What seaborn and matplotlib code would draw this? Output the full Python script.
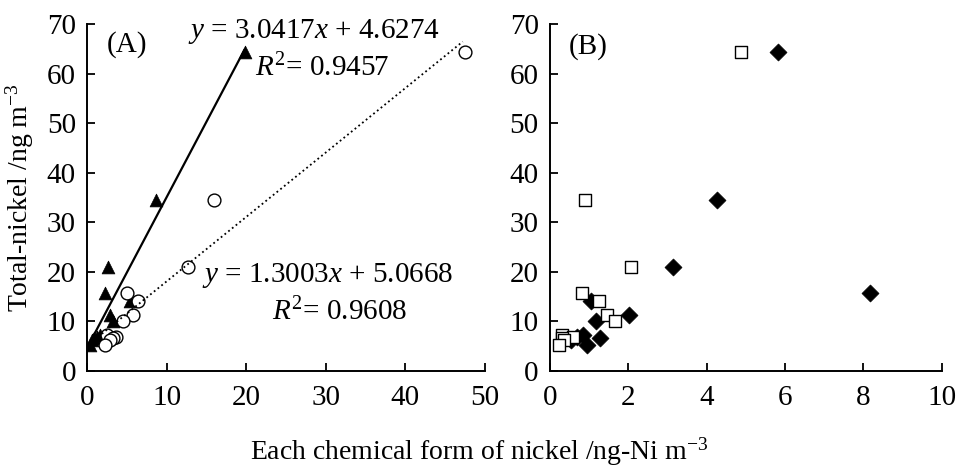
import numpy as np
import pandas as pd
import matplotlib
matplotlib.use('Agg')
import matplotlib.pyplot as plt
import seaborn as sns

# total nickel (y) shared by every chemical form
total_ni = [64.3, 34.4, 20.9, 15.7, 14.2, 11.3, 10.0, 7.3, 6.9, 6.6, 6.2, 5.3]

# panel A
form_tri = [19.8, 8.7, 2.6, 2.3, 5.4, 2.9, 3.3, 1.6, 1.2, 0.9, 0.6, 0.4]
form_circ = [47.5, 15.9, 12.7, 5.0, 6.4, 5.8, 4.5, 2.5, 3.6, 3.3, 2.9, 2.3]
# panel B
form_sq = [4.87, 0.89, 2.06, 0.81, 1.26, 1.47, 1.66, 0.30, 0.60, 0.30, 0.35, 0.24]
form_dia = [5.81, 4.27, 3.15, 8.16, 1.06, 2.02, 1.17, 0.85, 0.70, 1.28, 0.55, 0.94]

# fitted lines printed on panel A: (slope, intercept, x end)
fit_tri = (3.0417, 4.6274, 19.8)
fit_circ = (1.3003, 5.0668, 47.2)

sns.set_style('ticks')
plt.rcParams['font.family'] = ['Liberation Serif', 'DejaVu Serif']
plt.rcParams['mathtext.fontset'] = 'custom'
plt.rcParams['mathtext.rm'] = 'Liberation Serif'
plt.rcParams['mathtext.it'] = 'Liberation Serif:italic'
plt.rcParams['axes.linewidth'] = 1.4
plt.rcParams['axes.edgecolor'] = 'black'
plt.rcParams['text.color'] = 'black'

fs = 21

df = pd.DataFrame({'total': total_ni, 'tri': form_tri, 'circ': form_circ,
                   'sq': form_sq, 'dia': form_dia})

fig = plt.figure(figsize=(9.58, 4.68), dpi=100)
axA = fig.add_axes([0.0908, 0.2073, 0.4155, 0.7415])
axB = fig.add_axes([0.574, 0.2073, 0.409, 0.7415])

# ---- panel A
sns.scatterplot(data=df, x='tri', y='total', ax=axA, marker='^', s=85,
                color='black', edgecolor='black', linewidth=0.5, zorder=3)
sns.scatterplot(data=df, x='circ', y='total', ax=axA, marker='o', s=85,
                facecolor='white', edgecolor='black', linewidth=1.0, zorder=4)

for (m, b, xend), ls in [(fit_tri, '-'), (fit_circ, ':')]:
    xs = np.array([0, xend])
    sns.lineplot(x=xs, y=m * xs + b, ax=axA, color='black', linestyle=ls,
                 linewidth=1.6 if ls == '-' else 1.3, zorder=5)

axA.text(0.05, 0.94, '(A)', transform=axA.transAxes, fontsize=fs, va='center')
# equation labels, placed in figure pixels (from bottom-left)
eq_kw = dict(xycoords='figure pixels', fontsize=fs, ha='center', va='center')
axA.annotate(r'$\mathit{y}$ = 3.0417$\mathit{x}$ + 4.6274', (314, 437), **eq_kw)
axA.annotate(r'$\mathit{R}^{2}$= 0.9457', (322, 400), **eq_kw)
axA.annotate(r'$\mathit{y}$ = 1.3003$\mathit{x}$ + 5.0668', (328, 193), **eq_kw)
axA.annotate(r'$\mathit{R}^{2}$= 0.9608', (340, 156), **eq_kw)

axA.set_xlim(0, 50)
axA.set_xticks(range(0, 51, 10))

# ---- panel B
sns.scatterplot(data=df, x='dia', y='total', ax=axB, marker='D', s=75,
                color='black', edgecolor='black', linewidth=0.5, zorder=3)
sns.scatterplot(data=df, x='sq', y='total', ax=axB, marker='s', s=85,
                facecolor='white', edgecolor='black', linewidth=1.0, zorder=4)
axB.text(0.048, 0.935, '(B)', transform=axB.transAxes, fontsize=fs, va='center')
axB.set_xlim(0, 10)
axB.set_xticks(range(0, 11, 2))

for ax in (axA, axB):
    ax.set_ylim(0, 70)
    ax.set_yticks(range(0, 71, 10))
    ax.set_xlabel('')
    ax.set_ylabel('')
    ax.tick_params(direction='in', length=6, width=1.3, labelsize=fs,
                   colors='black')
    ax.tick_params(axis='x', pad=10)
    ax.tick_params(axis='y', pad=8)
    sns.despine(ax=ax)

fig.text(0.021, 0.578, r'Total-nickel /ng m$^{-3}$', rotation=90,
         fontsize=20, ha='center', va='center')
fig.text(0.5, 0.035, r'Each chemical form of nickel /ng-Ni m$^{-3}$',
         fontsize=20, ha='center', va='center')

fig.savefig('out.png', dpi=100)
